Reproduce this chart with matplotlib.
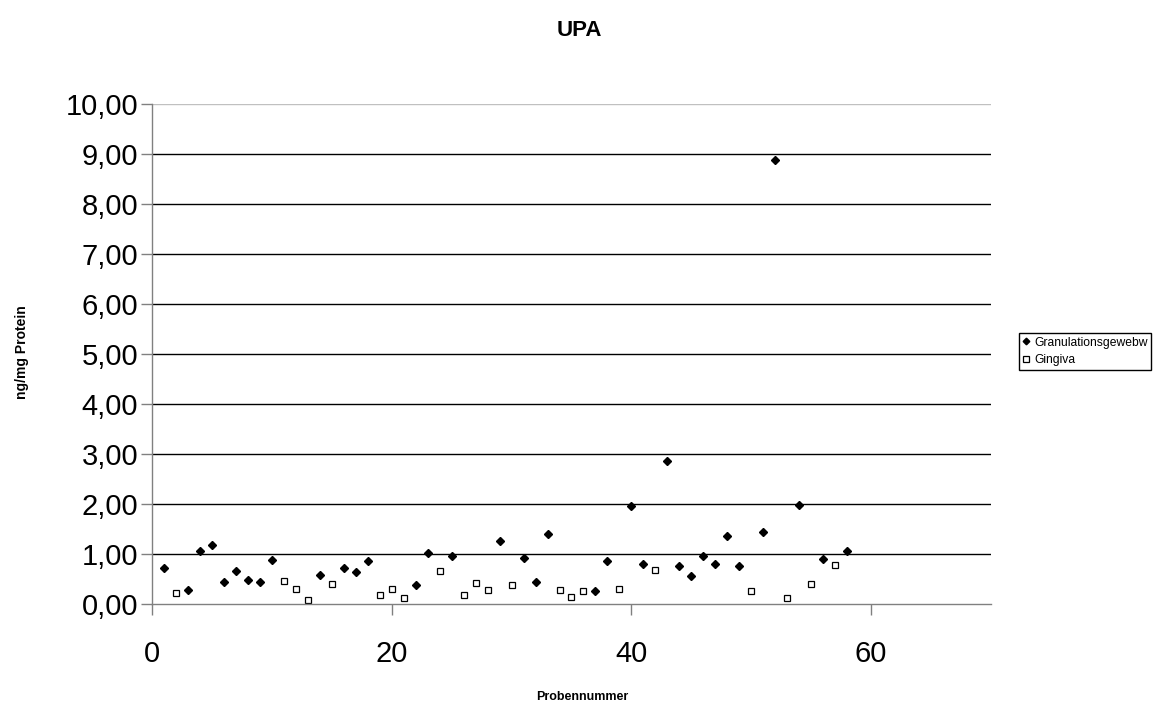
import matplotlib.pyplot as plt
from matplotlib.ticker import FuncFormatter

plt.rcParams['font.family'] = ['Liberation Sans', 'DejaVu Sans']

# sample numbers and uPA concentration (ng/mg protein)
granulation_x = [1, 3, 4, 5, 6, 7, 8, 9, 10, 14, 16, 17, 18, 22, 23, 25, 29, 31,
                 32, 33, 37, 38, 40, 41, 43, 44, 45, 46, 47, 48, 49, 51, 52, 54, 56, 58]
granulation_y = [0.72, 0.27, 1.06, 1.17, 0.44, 0.66, 0.48, 0.44, 0.88, 0.58, 0.72, 0.63,
                 0.86, 0.38, 1.02, 0.96, 1.26, 0.92, 0.44, 1.40, 0.26, 0.86, 1.96, 0.80,
                 2.86, 0.76, 0.56, 0.96, 0.80, 1.36, 0.76, 1.44, 8.88, 1.98, 0.90, 1.06]

gingiva_x = [2, 11, 12, 13, 15, 19, 20, 21, 24, 26, 27, 28, 30, 34, 35, 36, 39, 42,
             50, 53, 55, 57]
gingiva_y = [0.22, 0.46, 0.30, 0.07, 0.40, 0.18, 0.30, 0.12, 0.66, 0.18, 0.41, 0.27,
             0.38, 0.28, 0.14, 0.25, 0.30, 0.68, 0.26, 0.12, 0.40, 0.78]

fig = plt.figure(figsize=(11.55, 7.07), dpi=100)
ax = fig.add_axes([0.1316, 0.1457, 0.858 - 0.1316, 0.853 - 0.1457])

ax.plot(granulation_x, granulation_y, linestyle='none', marker='D', markersize=4.2,
        color='black', label='Granulationsgewebw')
ax.plot(gingiva_x, gingiva_y, linestyle='none', marker='s', markersize=5.0,
        markerfacecolor='white', markeredgecolor='black', markeredgewidth=0.9,
        label='Gingiva')

ax.set_xlim(0, 70)
ax.set_ylim(0, 10)
ax.set_xticks([0, 20, 40, 60])
ax.set_yticks(range(0, 11))
ax.yaxis.set_major_formatter(FuncFormatter(lambda v, p: f'{v:.2f}'.replace('.', ',')))
ax.tick_params(axis='both', labelsize=21, length=8, width=1, color='#808080',
               direction='out')
ax.tick_params(axis='x', pad=18)
ax.tick_params(axis='y', pad=2)

# horizontal grid lines; the top one is drawn lighter
for level in range(1, 11):
    ax.axhline(level, color='#c0c0c0' if level == 10 else 'black', linewidth=1,
               zorder=0.5)
for side in ['top', 'right']:
    ax.spines[side].set_visible(False)
for side in ['left', 'bottom']:
    ax.spines[side].set_color('#808080')
    ax.spines[side].set_linewidth(1)

fig.text(0.502, 1 - 31 / 707, 'UPA', ha='center', va='center', fontsize=16,
         fontweight='bold')
fig.text(0.019, 1 - 352 / 707, 'ng/mg Protein', ha='center', va='center',
         rotation=90, fontsize=10, fontweight='bold')
fig.text(0.504, 1 - 697 / 707, 'Probennummer', ha='center', va='center', fontsize=9,
         fontweight='bold')

leg = ax.legend(loc='upper left', bbox_to_anchor=(1019 / 1155, 1 - 333 / 707),
                bbox_transform=fig.transFigure, borderaxespad=0, fontsize=8.7,
                fancybox=False, framealpha=1, edgecolor='black', handlelength=0.6,
                handletextpad=0.35, borderpad=0.3, labelspacing=0.45, markerscale=0.8)
leg.get_frame().set_linewidth(1)

fig.savefig('out.png', dpi=100, facecolor='white')
